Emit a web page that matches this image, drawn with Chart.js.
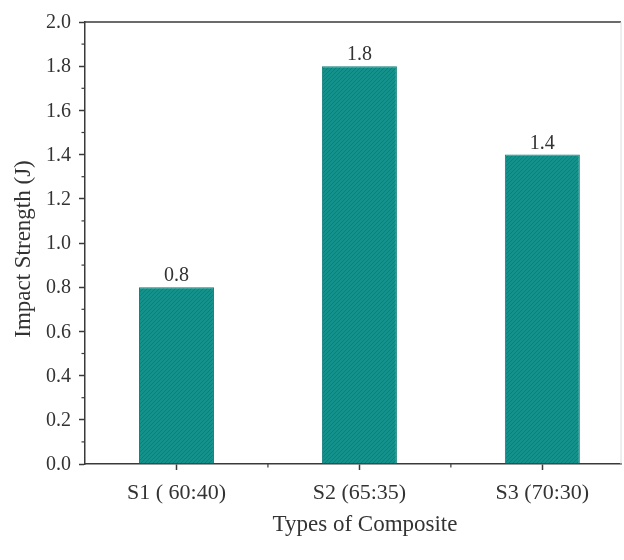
<!DOCTYPE html>
<html>
<head>
<meta charset="utf-8">
<script src="https://cdn.jsdelivr.net/npm/chart.js@4"></script>
<style>
  html, body { margin: 0; padding: 0; background: #fff; overflow: hidden; }
  #wrap { width: 624px; height: 560px; overflow: hidden; }
</style>
</head>
<body>
<div id="wrap"><canvas id="impactChart" width="640" height="560"></canvas></div>
<script>
// data
const categories = ["S1 ( 60:40)", "S2 (65:35)", "S3 (70:30)"];
const categoryPos = [1, 2, 3];
const impactValues = [0.8, 1.8, 1.4];
const yTicks = [0, 0.2, 0.4, 0.6, 0.8, 1.0, 1.2, 1.4, 1.6, 1.8, 2.0];
const xTitle = "Types of Composite";
const yTitle = "Impact Strength (J)";

const axisColor = "#3a3a3a";
const textColor = "#333333";
const fontFamily = "'Liberation Serif', 'DejaVu Serif', serif";

// hatched teal fill
function makeHatch() {
    const c = document.createElement("canvas");
    c.width = 4; c.height = 4;
    const g = c.getContext("2d");
    g.fillStyle = "#15918b";
    g.fillRect(0, 0, 4, 4);
    g.strokeStyle = "#0f7e79";
    g.lineWidth = 1;
    g.beginPath();
    g.moveTo(0, 4); g.lineTo(4, 0);
    g.moveTo(-2, 2); g.lineTo(2, -2);
    g.moveTo(2, 6); g.lineTo(6, 2);
    g.stroke();
    return g.createPattern(c, "repeat");
}

// frame top line, minor ticks and all the text
const decorPlugin = {
    id: "decor",
    afterDraw(chart) {
        const ctx = chart.ctx;
        const area = chart.chartArea;
        const xs = chart.scales.x;
        const ys = chart.scales.y;
        ctx.save();
        ctx.strokeStyle = axisColor;
        ctx.lineWidth = 1.5;
        // top frame
        ctx.beginPath();
        ctx.moveTo(area.left, area.top);
        ctx.lineTo(area.right, area.top);
        ctx.stroke();
        // faint right frame
        ctx.lineWidth = 1;
        ctx.strokeStyle = "#dcdcdc";
        ctx.beginPath();
        ctx.moveTo(area.right, area.top);
        ctx.lineTo(area.right, area.bottom);
        ctx.stroke();
        // minor y ticks
        ctx.strokeStyle = axisColor;
        ctx.lineWidth = 1.2;
        for (let i = 0; i < yTicks.length - 1; i++) {
            const y = ys.getPixelForValue((yTicks[i] + yTicks[i + 1]) / 2);
            ctx.beginPath();
            ctx.moveTo(area.left - 3.5, y);
            ctx.lineTo(area.left, y);
            ctx.stroke();
        }
        // minor x ticks
        for (let i = 0; i < categoryPos.length - 1; i++) {
            const x = xs.getPixelForValue((categoryPos[i] + categoryPos[i + 1]) / 2);
            ctx.beginPath();
            ctx.moveTo(x, area.bottom);
            ctx.lineTo(x, area.bottom + 3.5);
            ctx.stroke();
        }

        ctx.fillStyle = textColor;
        // y tick labels
        ctx.font = "20px " + fontFamily;
        ctx.textAlign = "right";
        ctx.textBaseline = "middle";
        yTicks.forEach(v => {
            ctx.fillText(v.toFixed(1), area.left - 14, ys.getPixelForValue(v) + 1);
        });
        // x tick labels
        ctx.font = "22px " + fontFamily;
        ctx.textAlign = "center";
        ctx.textBaseline = "alphabetic";
        categories.forEach((c, i) => {
            ctx.fillText(c, xs.getPixelForValue(categoryPos[i]), area.bottom + 35);
        });
        // value labels
        ctx.font = "20px " + fontFamily;
        impactValues.forEach((v, i) => {
            ctx.fillText(v.toFixed(1), xs.getPixelForValue(categoryPos[i]), ys.getPixelForValue(v) - 6);
        });
        // axis titles
        ctx.font = "23px " + fontFamily;
        ctx.fillText(xTitle, (area.left + 645) / 2, 531);
        ctx.save();
        ctx.translate(30, (area.top + area.bottom) / 2 + 6);
        ctx.rotate(-Math.PI / 2);
        ctx.fillText(yTitle, 0, 0);
        ctx.restore();
        ctx.restore();
    }
};

const ctx = document.getElementById("impactChart").getContext("2d");
new Chart(ctx, {
    type: "bar",
    data: {
        datasets: [{
            data: categoryPos.map((p, i) => ({ x: p, y: impactValues[i] })),
            backgroundColor: makeHatch(),
            borderColor: "#0f7e79",
            borderWidth: 1,
            barPercentage: 0.41,
            categoryPercentage: 1
        }]
    },
    options: {
        responsive: false,
        animation: false,
        layout: { padding: { top: 22, right: 19, left: 0, bottom: 0 } },
        plugins: { legend: { display: false }, tooltip: { enabled: false } },
        scales: {
            x: {
                type: "linear",
                offset: false,
                min: 0.5,
                max: 3.43,
                afterBuildTicks: (scale) => { scale.ticks = categoryPos.map(v => ({ value: v })); },
                afterFit: (scale) => { scale.height = 96; },
                grid: { offset: false, drawOnChartArea: false, tickLength: 6, tickColor: axisColor, tickWidth: 1.5 },
                border: { color: axisColor, width: 1.5 },
                ticks: { display: false }
            },
            y: {
                min: 0,
                max: 2.0,
                afterBuildTicks: (scale) => { scale.ticks = yTicks.map(v => ({ value: v })); },
                afterFit: (scale) => { scale.width = 85; },
                grid: { drawOnChartArea: false, tickLength: 6, tickColor: axisColor, tickWidth: 1.5 },
                border: { color: axisColor, width: 1.5 },
                ticks: { display: false }
            }
        }
    },
    plugins: [decorPlugin]
});
</script>
</body>
</html>
